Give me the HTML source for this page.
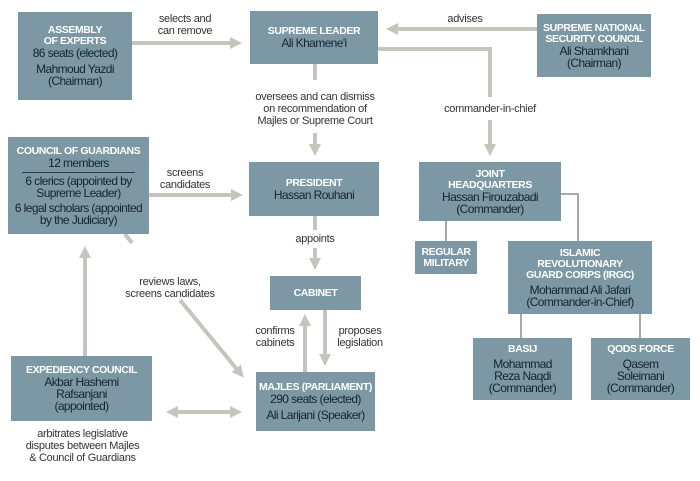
<!DOCTYPE html>
<html><head><style>
body{margin:0;width:700px;height:481px;background:#fff;position:relative;overflow:hidden;font-family:"Liberation Sans",sans-serif;}
.b{position:absolute;background:#7b98a4;text-align:center;color:#16242c;font-size:12px;line-height:12px;box-sizing:border-box;display:flex;flex-direction:column;justify-content:center;letter-spacing:-0.6px}
.h{color:#fff;font-weight:bold;font-size:10.5px;line-height:11px;letter-spacing:-0.4px}
.t{position:absolute;font-size:11px;line-height:12px;color:#333;text-align:center;letter-spacing:-0.3px}
svg{position:absolute;left:0;top:0}
</style></head><body>
<svg width="700" height="481">
<defs><marker id="a" markerWidth="3" markerHeight="3" refX="1.5" refY="1.5" orient="auto" markerUnits="strokeWidth"><path d="M0,0L3,1.5L0,3z" fill="#c6c5bd"/></marker></defs>
<g stroke="#c6c5bd" stroke-width="4" fill="none">
<line x1="132" y1="43" x2="236" y2="43" marker-end="url(#a)"/>
<line x1="537" y1="29" x2="392" y2="29" marker-end="url(#a)"/>
<polyline points="378,49 490,49 490,97"/>
<line x1="490" y1="120" x2="490" y2="150" marker-end="url(#a)"/>
<line x1="315" y1="64" x2="315" y2="80"/>
<line x1="315" y1="133" x2="315" y2="150" marker-end="url(#a)"/>
<line x1="149" y1="195" x2="237" y2="195" marker-end="url(#a)"/>
<line x1="315" y1="216" x2="315" y2="230"/>
<line x1="315" y1="248" x2="315" y2="264" marker-end="url(#a)"/>
<line x1="305" y1="372" x2="305" y2="320" marker-end="url(#a)"/>
<line x1="325" y1="310" x2="325" y2="360" marker-end="url(#a)"/>
<line x1="125" y1="234" x2="132" y2="243"/>
<line x1="180" y1="300" x2="240" y2="373" marker-end="url(#a)"/>
<line x1="85" y1="356" x2="85" y2="252" marker-end="url(#a)"/>
<line x1="172" y1="412" x2="236" y2="412" marker-end="url(#a)"/>
<line x1="236" y1="412" x2="172" y2="412" marker-end="url(#a)"/>
</g>
<g stroke="#a9a9a4" stroke-width="2" fill="none">
<polyline points="561,194 578,194 578,241"/>
<line x1="446" y1="221" x2="446" y2="241"/>
<line x1="521" y1="314" x2="521" y2="338"/>
<line x1="640" y1="314" x2="640" y2="338"/>
</g>
</svg>
<div class="b" style="left:18px;top:12px;width:114px;height:88px"><div class="h">ASSEMBLY<br>OF EXPERTS</div>86 seats (elected)<div style="height:4px"></div>Mahmoud Yazdi<br>(Chairman)</div>
<div class="b" style="left:250px;top:11px;width:128px;height:53px"><div class="h">SUPREME LEADER</div>Ali Khamene'i</div>
<div class="b" style="left:537px;top:14px;width:114px;height:63px"><div class="h">SUPREME NATIONAL<br>SECURITY COUNCIL</div>Ali Shamkhani<br>(Chairman)</div>
<div class="b" style="left:8px;top:137px;width:141px;height:97px"><div class="h">COUNCIL OF GUARDIANS</div>12 members<div style="border-top:1px solid #2a3a42;margin:3px 14px 2px"></div>6 clerics (appointed by<br>Supreme Leader)<div style="height:3px"></div>6 legal scholars (appointed<br>by the Judiciary)</div>
<div class="b" style="left:249px;top:162px;width:130px;height:54px"><div class="h">PRESIDENT</div>Hassan Rouhani</div>
<div class="b" style="left:270px;top:276px;width:91px;height:34px"><div class="h">CABINET</div></div>
<div class="b" style="left:256px;top:372px;width:119px;height:59px"><div class="h">MAJLES (PARLIAMENT)</div>290 seats (elected)<div style="height:4px"></div>Ali Larijani (Speaker)</div>
<div class="b" style="left:11px;top:356px;width:141px;height:65px"><div class="h">EXPEDIENCY COUNCIL</div>Akbar Hashemi<br>Rafsanjani<br>(appointed)</div>
<div class="b" style="left:419px;top:162px;width:142px;height:59px"><div class="h">JOINT<br>HEADQUARTERS</div>Hassan Firouzabadi<br>(Commander)</div>
<div class="b" style="left:415px;top:241px;width:62px;height:33px"><div class="h">REGULAR<br>MILITARY</div></div>
<div class="b" style="left:508px;top:241px;width:144px;height:73px"><div class="h">ISLAMIC<br>REVOLUTIONARY<br>GUARD CORPS (IRGC)</div><div style="height:3px"></div>Mohammad Ali Jafari<br>(Commander-in-Chief)</div>
<div class="b" style="left:473px;top:338px;width:99px;height:62px"><div class="h">BASIJ</div><div style="height:3px"></div>Mohammad<br>Reza Naqdi<br>(Commander)</div>
<div class="b" style="left:591px;top:338px;width:99px;height:62px"><div class="h">QODS FORCE</div><div style="height:3px"></div>Qasem<br>Soleimani<br>(Commander)</div>
<div class="t" style="left:135px;top:13px;width:100px">selects and<br>can remove</div>
<div class="t" style="left:430px;top:13px;width:70px">advises</div>
<div class="t" style="left:245px;top:91px;width:140px">oversees and can dismiss<br>on recommendation of<br>Majles or Supreme Court</div>
<div class="t" style="left:425px;top:103px;width:130px">commander-in-chief</div>
<div class="t" style="left:150px;top:167px;width:70px">screens<br>candidates</div>
<div class="t" style="left:280px;top:233px;width:70px">appoints</div>
<div class="t" style="left:110px;top:276px;width:120px">reviews laws,<br>screens candidates</div>
<div class="t" style="left:250px;top:325px;width:50px">confirms<br>cabinets</div>
<div class="t" style="left:332px;top:325px;width:56px">proposes<br>legislation</div>
<div class="t" style="left:10px;top:428px;width:145px">arbitrates legislative<br>disputes between Majles<br>&amp; Council of Guardians</div>
</body></html>
